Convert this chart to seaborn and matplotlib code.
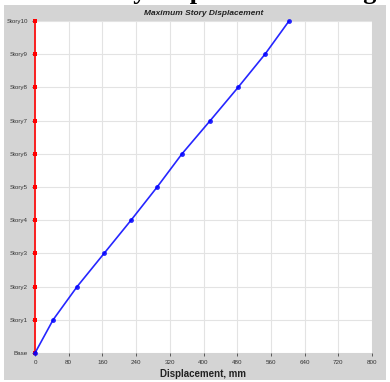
import matplotlib
matplotlib.use("Agg")
import matplotlib.pyplot as plt
import numpy as np
import pandas as pd
import seaborn as sns
from matplotlib.patches import Rectangle

# story levels and displacements (mm)
STORIES = ["Base", "Story1", "Story2", "Story3", "Story4", "Story5",
           "Story6", "Story7", "Story8", "Story9", "Story10"]
DISP = [0, 43, 100, 164, 228, 290, 349, 416, 482, 546, 603]
BASE_LINE = [0, 0, 0, 0, 0, 0, 0, 0, 0, 0, 0]
X_TICKS = [0, 80, 160, 240, 320, 400, 480, 560, 640, 720, 800]

df = pd.DataFrame({"level": range(len(STORIES)), "disp": DISP, "zero": BASE_LINE})

sns.set_style("white")
plt.rcParams["font.family"] = ["Liberation Sans", "DejaVu Sans"]

fig = plt.figure(figsize=(3.9, 3.82), dpi=100)
fig.patch.set_facecolor("white")
# gray panel behind the chart
fig.patches.append(Rectangle((4 / 390, 2 / 382), 382 / 390, 375 / 382,
                             transform=fig.transFigure, facecolor="#d4d4d4",
                             edgecolor="none", zorder=-5))
# cropped page heading above the panel
fig.text(376 / 390, 1.0 + 1 / 382, "Story Displacement Using", ha="right", va="baseline",
         fontsize=19, fontweight="bold", family=["Liberation Serif", "DejaVu Serif"],
         color="black")

ax = fig.add_axes([35 / 390, 1 - 353 / 382, 337 / 390, 332 / 382])
ax.set_facecolor("white")

sns.lineplot(data=df, x="zero", y="level", ax=ax, color="red", marker="s",
             markersize=3.5, markeredgewidth=0, linewidth=1.2, sort=False,
             orient="y", clip_on=False, zorder=3)
sns.lineplot(data=df, x="disp", y="level", ax=ax, color="blue", marker="o",
             markersize=3.5, markeredgewidth=0, linewidth=1.2, sort=False,
             orient="y", clip_on=False, zorder=4, alpha=0.85)

ax.set_xlim(0, 800)
ax.set_ylim(0, 10)
ax.set_xticks(X_TICKS)
ax.set_xticklabels([str(v) for v in X_TICKS], fontsize=4.5, color="#333333")
ax.set_yticks(range(len(STORIES)))
ax.set_yticklabels(STORIES, fontsize=4.5, color="#333333")
ax.tick_params(axis="both", length=2, width=0.6, color="#444444", pad=3,
               bottom=True, left=True)
ax.grid(True, color="#e3e3e3", linewidth=0.8)
ax.set_axisbelow(True)
for s in ax.spines.values():
    s.set_visible(False)

ax.set_ylabel("")
ax.set_xlabel("Displacement, mm", fontsize=7, fontweight="bold", color="#222222",
              labelpad=3)
ax.set_title("Maximum Story Displacement", fontsize=6, fontweight="bold",
             fontstyle="italic", color="#222222", pad=4)

fig.savefig("out.png", dpi=100)
